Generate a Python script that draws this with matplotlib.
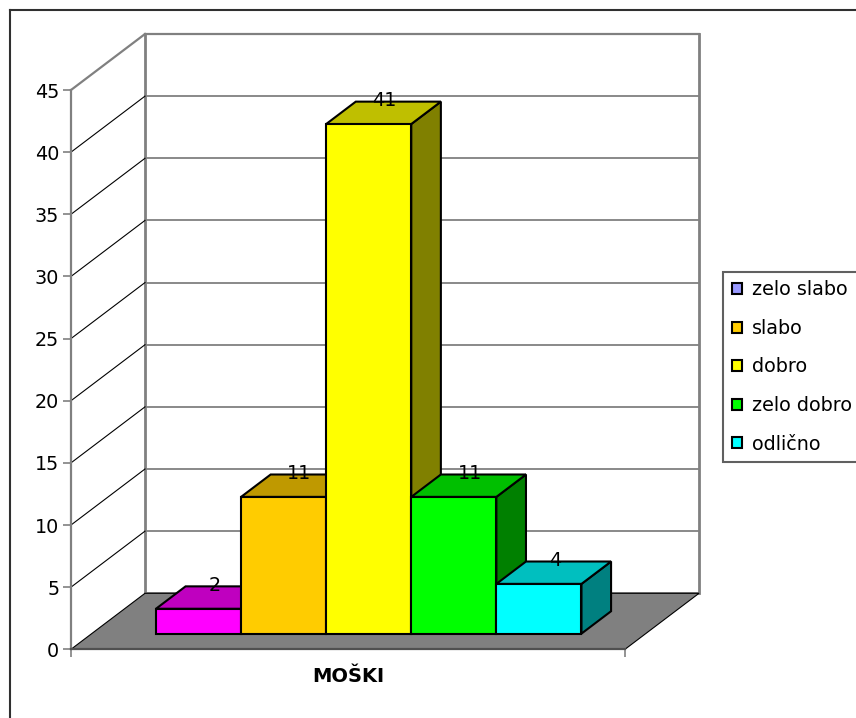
import numpy as np
import matplotlib
matplotlib.use("Agg")
import matplotlib.pyplot as plt
from matplotlib.patches import Polygon, Patch
from matplotlib.lines import Line2D
from matplotlib.transforms import IdentityTransform

# ---- data ----
categories = ["zelo slabo", "slabo", "dobro", "zelo dobro", "odlično"]
values = [2, 11, 41, 11, 4]
bar_colors = ["#FF00FF", "#FFCC00", "#FFFF00", "#00FF00", "#00FFFF"]
legend_colors = ["#9999FF", "#FFCC00", "#FFFF00", "#00FF00", "#00FFFF"]
group_label = "MOŠKI"
y_ticks = [0, 5, 10, 15, 20, 25, 30, 35, 40, 45]

# ---- layout ----
W, H, DPI = 856, 718, 100
plt.rcParams["font.family"] = ["DejaVu Sans"]
FS = 13.8

fig = plt.figure(figsize=(W / DPI, H / DPI), dpi=DPI)
fig.patch.set_facecolor("white")
x_front0, x_front1 = 71, 625
y_zero, y_top = 649.3, 90.0
ax = fig.add_axes([x_front0 / W, (H - y_zero) / H,
                   (x_front1 - x_front0) / W, (y_zero - y_top) / H])
ax.patch.set_visible(False)
n = len(values)
margin = 0.755
ax.set_xlim(-0.5 - margin, n - 0.5 + margin)
ax.set_ylim(y_ticks[0], y_ticks[-1])

# depth vector (display pixels)
DX, DY = 74.0, 56.0
D0, D1 = 0.28, 0.68  # bar depth span


def shade(c, f):
    return np.array(matplotlib.colors.to_rgb(c)) * f


def proj(xs, vs, ds):
    pts = ax.transData.transform(np.column_stack([xs, vs]).astype(float))
    ds = np.broadcast_to(np.asarray(ds, float), (len(pts),))
    pts[:, 0] += DX * ds
    pts[:, 1] += DY * ds
    return pts


xl0, xl1 = ax.get_xlim()
ID = IdentityTransform()

# back wall gridlines
for v in y_ticks:
    p = proj([xl0, xl1], [v, v], [1, 1])
    ax.add_line(Line2D(p[:, 0], p[:, 1], transform=ID, color="#808080",
                       lw=1.6 if v == y_ticks[-1] else 1.3, clip_on=False, zorder=1))
# back wall vertical edges
for xe in (xl0, xl1):
    p = proj([xe, xe], [y_ticks[0], y_ticks[-1]], [1, 1])
    ax.add_line(Line2D(p[:, 0], p[:, 1], transform=ID, color="#808080",
                       lw=2.0, clip_on=False, zorder=1))
# left wall diagonals
for v in y_ticks[1:]:
    p = proj([xl0, xl0], [v, v], [0, 1])
    ax.add_line(Line2D(p[:, 0], p[:, 1], transform=ID,
                       color="#808080" if v == y_ticks[-1] else "black",
                       lw=1.6 if v == y_ticks[-1] else 0.8, clip_on=False, zorder=1))

# floor
fl = proj([xl0, xl1, xl1, xl0], [0, 0, 0, 0], [0, 0, 1, 1])
ax.add_patch(Polygon(fl, closed=True, transform=ID, facecolor="#808080",
                     edgecolor="black", lw=0.8, clip_on=False, zorder=2))

# bars
for i, (v, c) in enumerate(zip(values, bar_colors)):
    x0, x1 = i - 0.5, i + 0.5
    side = proj([x1, x1, x1, x1], [0, v, v, 0], [D0, D0, D1, D1])
    top = proj([x0, x1, x1, x0], [v, v, v, v], [D0, D0, D1, D1])
    front = proj([x0, x1, x1, x0], [0, 0, v, v], [D0, D0, D0, D0])
    z = 3 + i * 0.1
    ax.add_patch(Polygon(side, closed=True, transform=ID, facecolor=shade(c, 0.5),
                         edgecolor="black", lw=1.5, clip_on=False, zorder=z,
                         joinstyle="miter"))
    ax.add_patch(Polygon(top, closed=True, transform=ID, facecolor=shade(c, 0.75),
                         edgecolor="black", lw=1.5, clip_on=False, zorder=z + 0.01,
                         joinstyle="miter"))
    ax.add_patch(Polygon(front, closed=True, transform=ID, facecolor=c,
                         edgecolor="black", lw=1.5, clip_on=False, zorder=z + 0.02,
                         joinstyle="miter"))

# data labels
for i, v in enumerate(values):
    pm = proj([i], [v], [(D0 + D1) / 2])[0]
    pb = proj([i], [v], [D1])[0]
    ax.text(pm[0] + 1, pb[1] + 1, str(v), transform=ID, ha="center", va="center",
            fontsize=FS, color="black", zorder=10, clip_on=False)

# axes styling
for s in ("top", "right"):
    ax.spines[s].set_visible(False)
ax.spines["left"].set_color("#808080")
ax.spines["left"].set_linewidth(1.6)
ax.spines["left"].set_bounds(y_ticks[0], y_ticks[-1])
ax.spines["bottom"].set_color("#505050")
ax.spines["bottom"].set_linewidth(1.6)
ax.set_yticks(y_ticks)
ax.set_yticklabels([str(t) for t in y_ticks])
ax.tick_params(axis="y", direction="out", length=5.5, width=1.2, color="#808080",
               pad=3, labelsize=FS, labelcolor="black")
ax.set_xticks([xl0, xl1])
ax.set_xticklabels(["", ""])
ax.tick_params(axis="x", which="major", direction="out", length=6, width=1.2,
               color="#808080")
ax.set_xticks([(n - 1) / 2], minor=True)
ax.set_xticklabels([group_label], minor=True, fontsize=14, fontweight="bold")
ax.tick_params(axis="x", which="minor", length=0, pad=13)

# legend
handles = [Patch(facecolor=c, edgecolor="black", linewidth=1.5) for c in legend_colors]
leg = fig.legend(handles, categories, loc="upper left",
                 bbox_to_anchor=(723.3 / W, 1 - 271.7 / H), borderaxespad=0,
                 fontsize=FS, handlelength=0.5, handleheight=0.5, handletextpad=0.55,
                 labelspacing=1.02, borderpad=0.45, fancybox=False, frameon=True,
                 framealpha=1)
leg.get_frame().set_edgecolor("#606060")
leg.get_frame().set_linewidth(1.5)

# outer chart border (cropped at right/bottom)
fig.add_artist(Line2D([10 / W, 10 / W], [0, 1 - 10 / H], transform=fig.transFigure,
                      color="#303030", lw=1.5))
fig.add_artist(Line2D([10 / W, 1], [1 - 10 / H, 1 - 10 / H], transform=fig.transFigure,
                      color="#303030", lw=1.5))

fig.savefig("out.png", dpi=DPI)
